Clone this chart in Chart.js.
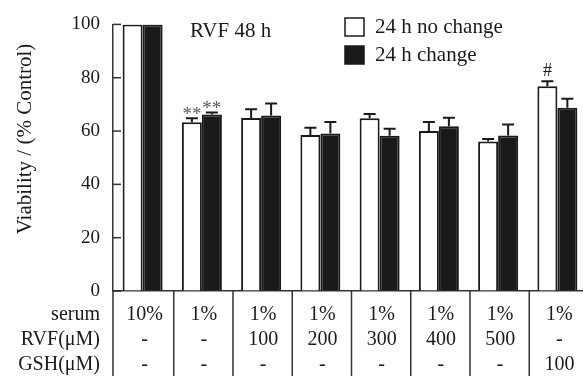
<!DOCTYPE html>
<html>
<head>
<meta charset="utf-8">
<script src="https://cdn.jsdelivr.net/npm/chart.js@4/dist/chart.umd.min.js"></script>
<style>
  html, body { margin: 0; padding: 0; background: #fff; overflow: hidden; }
  #wrap { width: 600px; height: 376px; }
</style>
</head>
<body>
<div id="wrap"><canvas id="chart"></canvas></div>
<script>
// values
const groups = ["10% serum", "1% serum", "RVF 100", "RVF 200", "RVF 300", "RVF 400", "RVF 500", "GSH 100"];
const noChange = [100, 63.3, 64.9, 58.5, 64.8, 60.0, 56.1, 76.8];
const noChangeErr = [0, 1.5, 3.3, 2.7, 1.6, 3.4, 0.9, 1.9];
const change = [100, 66.2, 65.8, 59.1, 58.2, 61.8, 58.3, 68.7];
const changeErr = [0, 0.8, 4.5, 4.3, 2.7, 3.2, 4.2, 3.4];
const noChangeMarks = ["", "**", "", "", "", "", "", "#"];
const changeMarks = ["", "**", "", "", "", "", "", ""];
const yTicks = [0, 20, 40, 60, 80, 100];
const rowLabels = ["serum", "RVF(μM)", "GSH(μM)"];
const serumRow = ["10%", "1%", "1%", "1%", "1%", "1%", "1%", "1%"];
const rvfRow = ["-", "-", "100", "200", "300", "400", "500", "-"];
const gshRow = ["-", "-", "-", "-", "-", "-", "-", "100"];
const chartTitle = "RVF 48 h";
const yTitle = "Viability / (% Control)";

const FONT = "'Liberation Serif', 'Times New Roman', serif";
const INK = "#1a1a1a";
const LINE = "#333";

const errs = [noChangeErr, changeErr];
const marks = [noChangeMarks, changeMarks];

// error bars + significance marks
const errorBars = {
  id: "errorBars",
  afterDatasetsDraw(chart) {
    const ctx = chart.ctx;
    const y = chart.scales.y;
    ctx.save();
    ctx.strokeStyle = INK;
    ctx.lineWidth = 2;
    chart.data.datasets.forEach((ds, d) => {
      const meta = chart.getDatasetMeta(d);
      meta.data.forEach((bar, i) => {
        const v = ds.data[i];
        const e = errs[d][i];
        const top = y.getPixelForValue(v + e);
        if (e > 0) {
          ctx.beginPath();
          ctx.moveTo(bar.x, y.getPixelForValue(v));
          ctx.lineTo(bar.x, top);
          ctx.moveTo(bar.x - 6, top);
          ctx.lineTo(bar.x + 6, top);
          ctx.stroke();
        }
        const m = marks[d][i];
        if (m) {
          ctx.fillStyle = m === "#" ? INK : "#555";
          ctx.font = (m === "#" ? "18px " : "19px ") + FONT;
          ctx.textAlign = "center";
          ctx.textBaseline = "alphabetic";
          ctx.fillText(m, bar.x, top - (m === "#" ? 5 : -2));
        }
      });
    });
    ctx.restore();
  }
};

// inward y ticks, titles, legend and the condition table
const decorations = {
  id: "decorations",
  afterDraw(chart) {
    const ctx = chart.ctx;
    const { left, bottom } = chart.chartArea;
    const x = chart.scales.x;
    const y = chart.scales.y;
    ctx.save();
    ctx.strokeStyle = LINE;
    ctx.lineWidth = 1.5;
    yTicks.forEach((t) => {
      const py = y.getPixelForValue(t);
      ctx.beginPath();
      ctx.moveTo(left, py);
      ctx.lineTo(left + 8, py);
      ctx.stroke();
    });

    ctx.fillStyle = INK;
    ctx.font = "21px " + FONT;
    ctx.textBaseline = "middle";

    // y title
    ctx.save();
    ctx.translate(25, 139);
    ctx.rotate(-Math.PI / 2);
    ctx.textAlign = "center";
    ctx.fillText(yTitle, 0, 0);
    ctx.restore();

    ctx.textAlign = "left";
    ctx.fillText(chartTitle, 190, 31);

    // legend
    const ds = chart.data.datasets;
    [[18, "#fff"], [46, INK]].forEach(([by, fill], i) => {
      ctx.fillStyle = fill;
      ctx.fillRect(345, by, 19, 18);
      ctx.strokeStyle = INK;
      ctx.lineWidth = 1.5;
      ctx.strokeRect(345, by, 19, 18);
      ctx.fillStyle = INK;
      ctx.fillText(ds[i].label, 375, by + 9);
    });

    // table
    const H = chart.height;
    ctx.strokeStyle = LINE;
    ctx.lineWidth = 1.5;
    ctx.beginPath();
    ctx.moveTo(left, bottom);
    ctx.lineTo(left, H);
    for (let i = 1; i < groups.length; i++) {
      const bx = (x.getPixelForValue(i - 1) + x.getPixelForValue(i)) / 2 + 1.5;
      ctx.moveTo(bx, bottom);
      ctx.lineTo(bx, H);
    }
    ctx.stroke();

    ctx.font = "20px " + FONT;
    ctx.fillStyle = INK;
    [serumRow, rvfRow, gshRow].forEach((row, r) => {
      const ry = bottom + 24 + r * 25;
      ctx.textAlign = "right";
      ctx.fillText(rowLabels[r], 100, ry);
      ctx.textAlign = "center";
      row.forEach((txt, i) => ctx.fillText(txt, x.getPixelForValue(i) + 2, ry));
    });
    ctx.restore();
  }
};

new Chart(document.getElementById("chart").getContext("2d"), {
  type: "bar",
  data: {
    labels: groups,
    datasets: [
      {
        label: "24 h no change",
        data: noChange,
        backgroundColor: "#fff",
        borderColor: INK,
        borderWidth: 2,
        categoryPercentage: 0.675,
        barPercentage: 1.0,
      },
      {
        label: "24 h change",
        data: change,
        backgroundColor: INK,
        borderColor: INK,
        borderWidth: 2,
        categoryPercentage: 0.675,
        barPercentage: 1.0,
      },
    ],
  },
  options: {
    responsive: true,
    maintainAspectRatio: false,
    animation: false,
    layout: { padding: { top: 14, right: 13, bottom: 85, left: 0 } },
    plugins: {
      legend: { display: false },
      tooltip: { enabled: false },
    },
    scales: {
      x: {
        type: "category",
        ticks: { display: false },
        grid: { drawOnChartArea: false, drawTicks: false },
        border: { display: true, color: LINE, width: 1.5 },
      },
      y: {
        min: 0,
        max: 100,
        afterBuildTicks: (scale) => {
          scale.ticks = yTicks.map((v) => ({ value: v }));
        },
        afterFit: (scale) => {
          scale.width = 113;
        },
        ticks: {
          font: { family: FONT, size: 19 },
          color: INK,
          padding: 13,
        },
        grid: { drawOnChartArea: false, drawTicks: false },
        border: { display: true, color: LINE, width: 1.5 },
      },
    },
  },
  plugins: [errorBars, decorations],
});
</script>
</body>
</html>
